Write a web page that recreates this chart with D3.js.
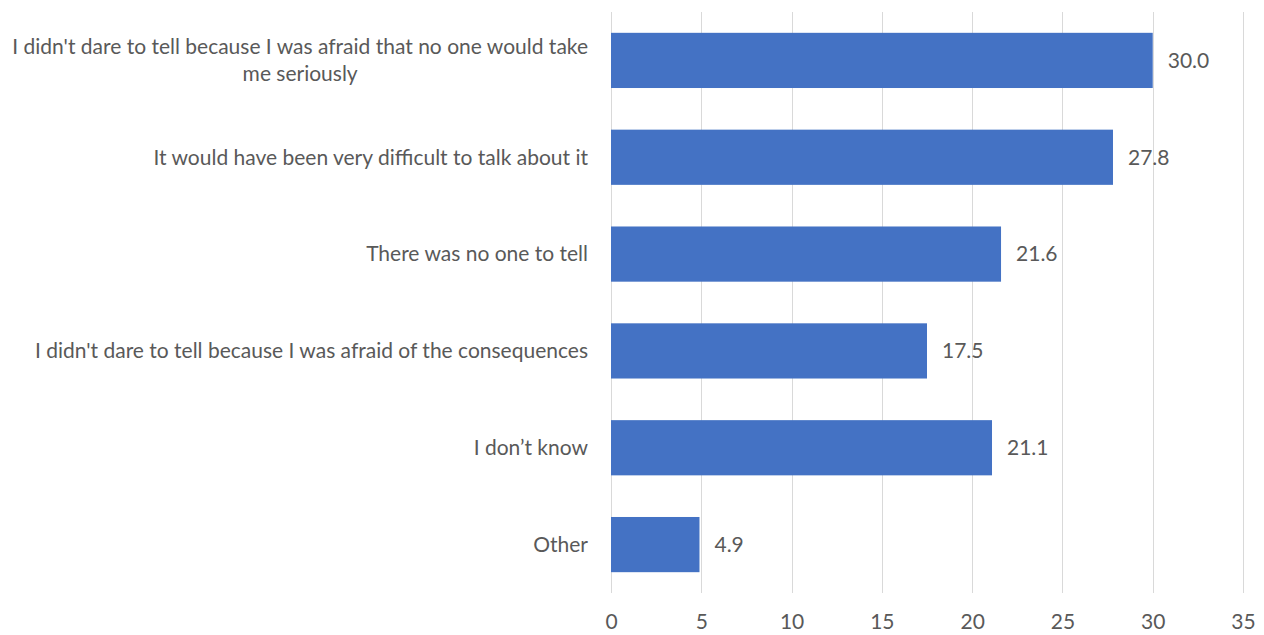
<!DOCTYPE html>
<html>
<head>
<meta charset="utf-8">
<script src="https://cdn.jsdelivr.net/npm/d3@7"></script>
<style>
  html, body { margin: 0; padding: 0; background: #fff; }
  svg { display: block; }
  text { font-family: Lato, "Open Sans", sans-serif; fill: #595959; }
</style>
</head>
<body>
<svg id="chart" width="1264" height="635"></svg>
<script>
// Reasons for not telling anyone (%)
const categories = [
  "I didn't dare to tell because I was afraid that no one would take me seriously",
  "It would have been very difficult to talk about it",
  "There was no one to tell",
  "I didn't dare to tell because I was afraid of the consequences",
  "I don\u2019t know",
  "Other"
];
const values = [30.0, 27.8, 21.6, 17.5, 21.1, 4.9];
const valueLabels = ["30.0", "27.8", "21.6", "17.5", "21.1", "4.9"];
const xTicks = [0, 5, 10, 15, 20, 25, 30, 35];

// Wrapped lines for long category names
const labelLines = {
  "I didn't dare to tell because I was afraid that no one would take me seriously":
    ["I didn't dare to tell because I was afraid that no one would take", "me seriously"]
};

const FONT = "Lato, 'Open Sans', sans-serif";
const FS = "21px";

const svg = d3.select("#chart");
const margin = { top: 12, left: 611 };
const plotW = 632, plotH = 581;
const g = svg.append("g").attr("transform", `translate(${margin.left},${margin.top})`);

const x = d3.scaleLinear().domain([0, 35]).range([0, plotW]);
const y = d3.scaleBand().domain(categories).range([0, plotH]).paddingInner(0.43).paddingOuter(0.215);

// Vertical gridlines
g.append("g").selectAll("line").data(xTicks).join("line")
  .attr("x1", d => Math.round(x(d)) + 0.5).attr("x2", d => Math.round(x(d)) + 0.5)
  .attr("y1", 0).attr("y2", plotH)
  .attr("stroke", "#d9d9d9").attr("stroke-width", 1);

// X axis tick labels
const xAxis = d3.axisBottom(x).tickValues(xTicks).tickSize(0).tickPadding(0);
const xg = g.append("g").attr("transform", `translate(0,${plotH})`).call(xAxis);
xg.select(".domain").remove();
xg.selectAll("text")
  .attr("dy", "0.35em").attr("y", 29)
  .style("font-family", FONT)
  .style("font-size", FS).style("fill", "#595959");

// Bars
g.selectAll("rect.bar").data(categories).join("rect")
  .attr("class", "bar")
  .attr("x", x(0))
  .attr("y", d => y(d))
  .attr("width", (d, i) => x(values[i]) - x(0))
  .attr("height", y.bandwidth())
  .attr("fill", "#4472C4");

// Value labels
g.selectAll("text.val").data(categories).join("text")
  .attr("class", "val")
  .attr("x", (d, i) => x(values[i]) + 15)
  .attr("y", d => y(d) + y.bandwidth() / 2)
  .attr("dy", "0.35em")
  .style("font-size", FS)
  .text((d, i) => valueLabels[i]);

// Category labels (right-aligned block, wrapped lines centred within it)
const labelRight = -23;
categories.forEach(cat => {
  const lines = labelLines[cat] || [cat];
  const cy = y(cat) + y.bandwidth() / 2;
  const lh = 27;
  const t = g.append("text").style("font-size", FS);
  lines.forEach((ln, k) => {
    t.append("tspan").text(ln)
      .attr("y", cy + (k - (lines.length - 1) / 2) * lh)
      .attr("dy", "0.35em");
  });
  const spans = t.selectAll("tspan").nodes();
  const maxW = d3.max(spans, n => n.getComputedTextLength());
  const centre = labelRight - maxW / 2;
  t.selectAll("tspan").attr("x", centre).attr("text-anchor", "middle");
});
</script>
</body>
</html>
